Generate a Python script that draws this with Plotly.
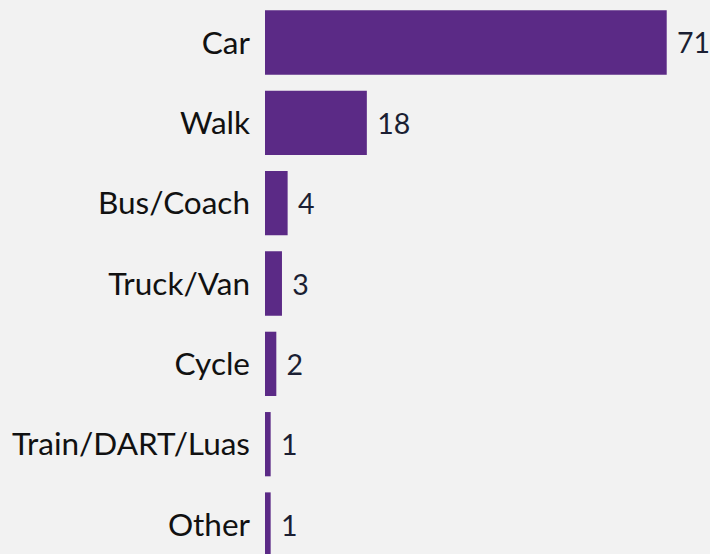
import plotly.graph_objects as go

categories = ["Car", "Walk", "Bus/Coach", "Truck/Van", "Cycle", "Train/DART/Luas", "Other"]
values = [71, 18, 4, 3, 2, 1, 1]

fig = go.Figure(go.Bar(
    x=values,
    y=categories,
    orientation="h",
    marker=dict(color="#5b2a86", line=dict(width=0)),
    text=values,
    texttemplate="\u00a0%{x}",
    textposition="outside",
    cliponaxis=False,
    textfont=dict(family="Lato", size=28.5, color="#1b1f33"),
    hoverinfo="skip",
))

fig.update_layout(
    width=710, height=554,
    paper_bgcolor="#f2f2f2",
    plot_bgcolor="#f2f2f2",
    margin=dict(l=265, r=0, t=0, b=0),
    bargap=0.2,
    showlegend=False,
    font=dict(family="Lato", color="#111111"),
    xaxis=dict(range=[0, 78.65], visible=False, showgrid=False, zeroline=False),
    yaxis=dict(
        range=[6.367, -0.529],
        showgrid=False, zeroline=False, showline=False,
        ticks="", ticklabelstandoff=14,
        tickfont=dict(family="Lato", size=31.5, color="#111111"),
    ),
)

fig.write_html(
    "out.html",
    config={"displayModeBar": False},
    post_script="document.body.style.margin='0px';document.body.style.background='#f2f2f2';",
)
